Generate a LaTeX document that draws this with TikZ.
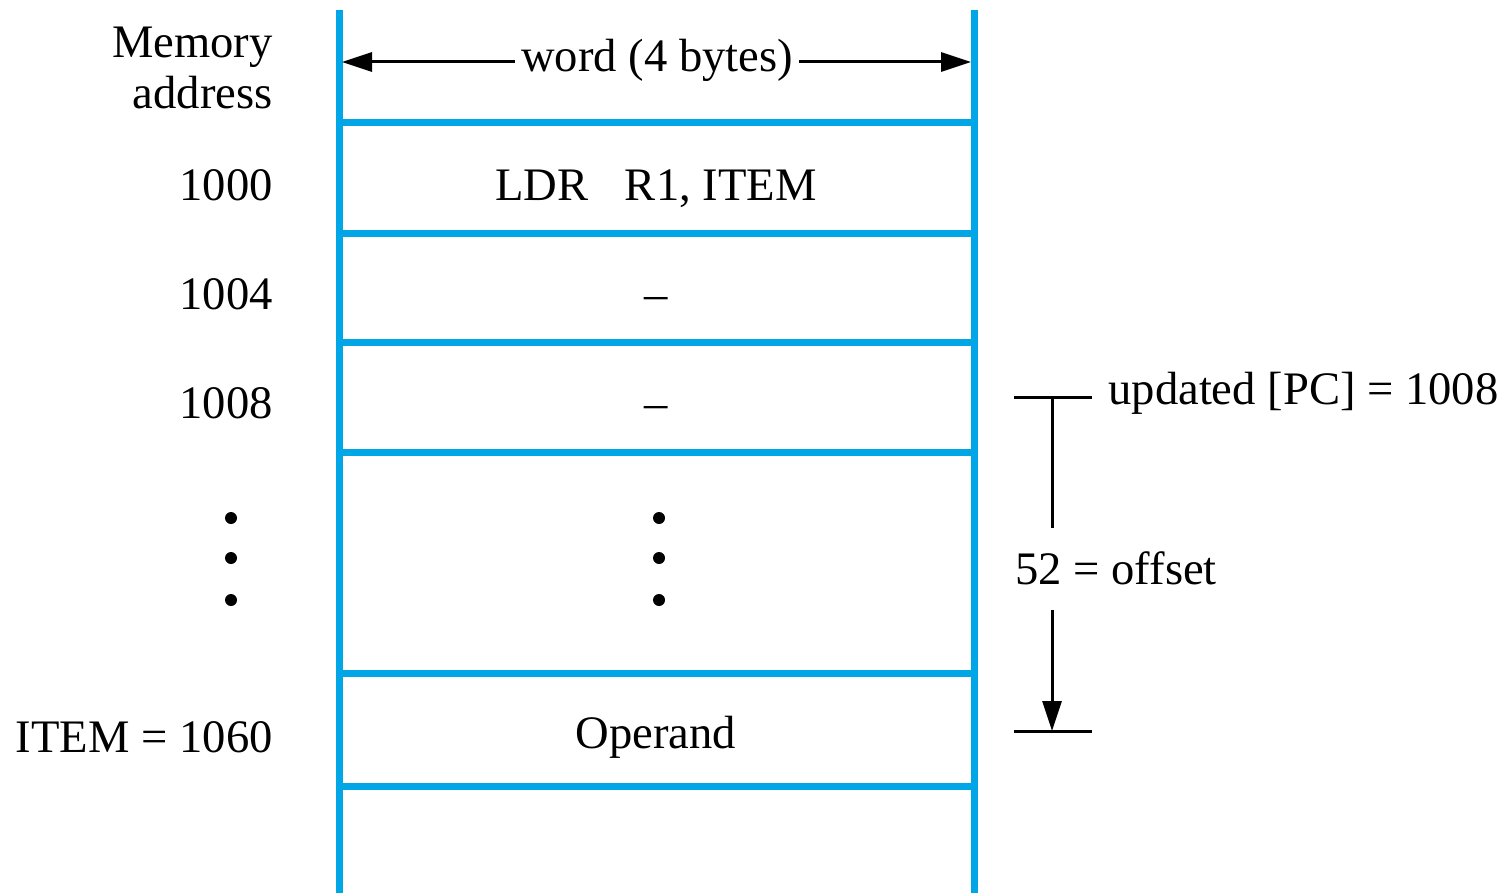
\documentclass[tikz,border=0pt]{standalone}
\usepackage{fontspec}
\setmainfont{Liberation Serif}
\usetikzlibrary{arrows.meta}
\definecolor{memblue}{RGB}{0,166,230}
\begin{document}
\begin{tikzpicture}[x=0.5pt,y=-0.5pt,
  wall/.style={draw=memblue,line width=3.5pt},
  rule/.style={draw=black,line width=1.5pt},
  tip/.style={-{Triangle[length=15pt,width=9.5pt]}},
  lbl/.style={inner sep=0pt,font=\fontsize{23.3}{28}\selectfont},
  dot/.style={fill=black,circle,inner sep=0pt,minimum size=6pt}]
\useasboundingbox (0,0) rectangle (1507,893);

% memory column walls
\coordinate (LT) at (339,10);
\coordinate (LB) at (339,893);
\coordinate (RT) at (974,10);
\coordinate (RB) at (974,893);
\draw[wall] (LT) -- (LB);
\draw[wall] (RT) -- (RB);

% word boundaries
\foreach \i/\yy in {1/123,2/233,3/342,4/452,5/673,6/786} {
  \coordinate (bl\i) at (339,\yy);
  \coordinate (br\i) at (974,\yy);
  \draw[wall] (bl\i) -- (br\i);
}

% word width arrow
\node[lbl,fill=white,inner xsep=3pt] (word) at (657,60) {word (4 bytes)};
\coordinate (wl) at (342,62);
\coordinate (wr) at (971,62);
\draw[rule,tip] (word.west |- wl) -- (wl);
\draw[rule,tip] (word.east |- wr) -- (wr);

% address labels
\node[lbl,anchor=base east] (hdr) at (273,58) {Memory};
\node[lbl,anchor=base east] (hdr2) at (273,109) {address};
\node[lbl,anchor=base east] (a1000) at (273,200) {1000};
\node[lbl,anchor=base east] (a1004) at (273,309) {1004};
\node[lbl,anchor=base east] (a1008) at (273,418) {1008};
\node[lbl,anchor=base east] (aitem) at (273,752) {ITEM = 1060};
\node[dot] (ld1) at (231,518) {};
\node[dot] (ld2) at (231,558) {};
\node[dot] (ld3) at (231,600) {};

% word contents
\node[lbl,anchor=base] (c1) at (656,200) {LDR\hspace{0.78em}R1, ITEM};
\node[lbl,anchor=base] (c2) at (656,309) {–};
\node[lbl,anchor=base] (c3) at (656,418) {–};
\node[dot] (md1) at (659,518) {};
\node[dot] (md2) at (659,558) {};
\node[dot] (md3) at (659,600) {};
\node[lbl,anchor=base] (c5) at (656,748) {Operand};

% offset from updated PC to operand
\coordinate (pcl) at (1014,397);
\coordinate (pcr) at (1092,397);
\coordinate (pcm) at (1052,397);
\coordinate (opl) at (1014,731);
\coordinate (opr) at (1092,731);
\coordinate (opm) at (1052,731);
\draw[rule] (pcl) -- (pcr);
\draw[rule] (opl) -- (opr);
\node[lbl,anchor=base west] (pc) at (1108,404) {updated [PC] = 1008};
\node[lbl,anchor=base west] (off) at (1015,584) {52 = offset};
\coordinate (gapt) at (1052,528);
\coordinate (gapb) at (1052,610);
\draw[rule] (pcm) -- (gapt);
\draw[rule,tip] (gapb) -- (opm);
\end{tikzpicture}
\end{document}
